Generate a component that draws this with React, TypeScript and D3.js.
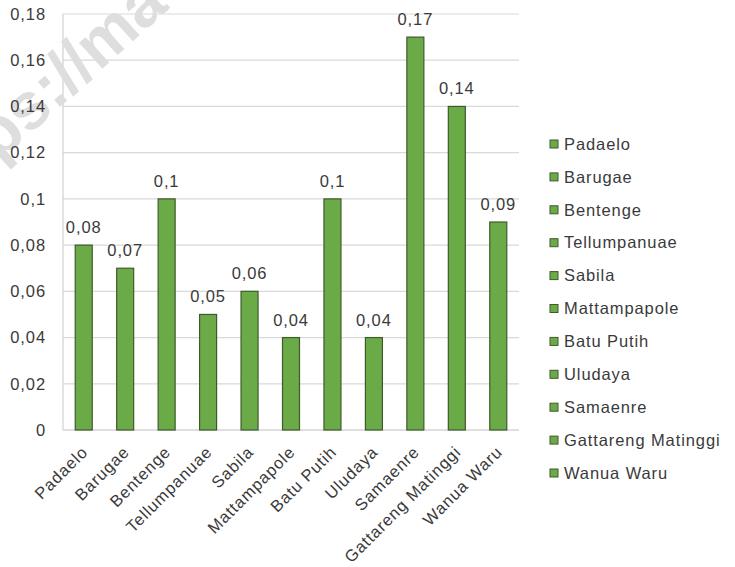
import React, { useEffect, useRef } from 'react';
import * as d3 from 'd3';

const villages = ['Padaelo', 'Barugae', 'Bentenge', 'Tellumpanuae', 'Sabila', 'Mattampapole', 'Batu Putih', 'Uludaya', 'Samaenre', 'Gattareng Matinggi', 'Wanua Waru'];
const values = [0.08, 0.07, 0.1, 0.05, 0.06, 0.04, 0.1, 0.04, 0.17, 0.14, 0.09];
const yTicks = [0, 0.02, 0.04, 0.06, 0.08, 0.1, 0.12, 0.14, 0.16, 0.18];

const W = 735, H = 567;
const FONT = 'Arial, Liberation Sans, sans-serif';
const fmt = (v: number) => (v === 0 ? '0' : String(+v.toFixed(2)).replace('.', ','));

export default function App() {
  const ref = useRef<SVGSVGElement>(null);

  useEffect(() => {
    const svg = d3.select(ref.current);
    svg.selectAll('*').remove();
    const left = 63, right = 519, top = 14, bottom = 430;

    const x = d3.scaleBand().domain(villages).range([left, right]).paddingInner(0.59).paddingOuter(0.295);
    const y = d3.scaleLinear().domain([0, 0.18]).range([bottom, top]);

    const txt = (sel: any) => sel
      .attr('font-family', FONT).attr('font-size', 16.5)
      .attr('letter-spacing', 0.9).attr('fill', '#3a3a3a');

    const g = svg.append('g');
    g.selectAll('line.grid').data(yTicks).join('line')
      .attr('x1', left).attr('x2', right)
      .attr('y1', d => y(d)).attr('y2', d => y(d))
      .attr('stroke', d => (d === 0 ? '#bfbfbf' : '#d9d9d9')).attr('stroke-width', 1.2);
    g.append('line').attr('x1', left).attr('x2', left).attr('y1', top).attr('y2', bottom)
      .attr('stroke', '#d0d0d0').attr('stroke-width', 1.2);

    // watermark, behind the labels
    g.append('text')
      .attr('transform', 'translate(170,8) rotate(-42)')
      .attr('text-anchor', 'end')
      .attr('font-family', FONT)
      .attr('font-weight', 'bold')
      .attr('font-size', 66)
      .attr('fill', '#dedede')
      .text('https://ma');

    g.selectAll('text.ytick').data(yTicks).join('text')
      .attr('x', 46).attr('y', d => y(d)).attr('dy', '0.35em')
      .attr('text-anchor', 'end')
      .call(txt).text(d => fmt(d));

    g.selectAll('rect.bar').data(values).join('rect')
      .attr('x', (d, i) => x(villages[i])!)
      .attr('width', x.bandwidth())
      .attr('y', d => y(d))
      .attr('height', d => bottom - y(d))
      .attr('fill', '#6aab48').attr('stroke', '#3e5a2c').attr('stroke-width', 1.2);

    g.selectAll('text.val').data(values).join('text')
      .attr('x', (d, i) => x(villages[i])! + x.bandwidth() / 2)
      .attr('y', d => y(d) - 12)
      .attr('text-anchor', 'middle')
      .call(txt).text(d => fmt(d));

    g.selectAll('text.cat').data(villages).join('text')
      .attr('transform', d => `translate(${x(d)! + x.bandwidth() / 2 + 1},${bottom + 19}) rotate(-45)`)
      .attr('text-anchor', 'end').attr('dy', '0.35em')
      .call(txt).text(d => d);

    const leg = svg.append('g');
    const ly = d3.scalePoint().domain(villages).range([144, 473]);
    leg.selectAll('rect').data(villages).join('rect')
      .attr('x', 550).attr('y', d => ly(d)! - 4).attr('width', 8).attr('height', 8)
      .attr('fill', '#6aab48').attr('stroke', '#3e5a2c').attr('stroke-width', 1);
    leg.selectAll('text').data(villages).join('text')
      .attr('x', 564).attr('y', d => ly(d)!).attr('dy', '0.35em')
      .call(txt).text(d => d);
  }, []);

  return (
    <svg ref={ref} width={W} height={H} style={{ position: 'absolute', left: 0, top: 0, background: '#fff' }} />
  );
}
